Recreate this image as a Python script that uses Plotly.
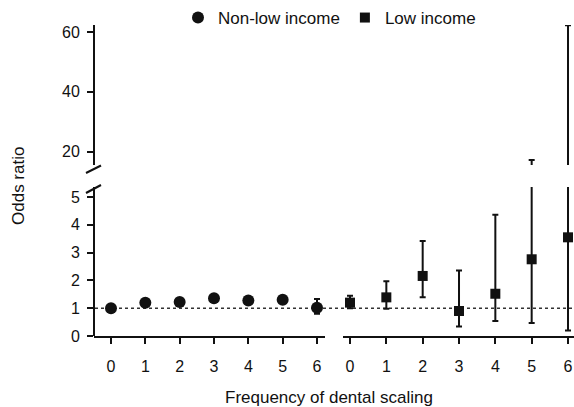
import plotly.graph_objects as go

W, H = 574, 407

freq = [0, 1, 2, 3, 4, 5, 6]
tick_labels = ["0", "1", "2", "3", "4", "5", "6"]

nonlow_or = [1.00, 1.20, 1.22, 1.36, 1.28, 1.30, 1.02]
nonlow_hi = [1.06, 1.27, 1.30, 1.44, 1.36, 1.38, 1.33]
nonlow_lo = [0.95, 1.13, 1.15, 1.28, 1.20, 1.22, 0.80]

low_or = [1.20, 1.39, 2.16, 0.90, 1.52, 2.76, 3.55]
low_hi = [1.45, 1.97, 3.42, 2.36, 4.36, 17.2, 62.3]
low_lo = [1.00, 0.98, 1.39, 0.34, 0.54, 0.47, 0.20]

def px_x(p):
    return p / W

def px_y(p):
    return (H - p) / H

font = "Liberation Sans, Arial, sans-serif"
ink = "#111111"

def err(center, hi, lo):
    return dict(type="data", symmetric=False,
                array=[h - c for h, c in zip(hi, center)],
                arrayminus=[c - l for c, l in zip(center, lo)],
                color=ink, thickness=2, width=3)

fig = go.Figure()

fig.add_trace(go.Scatter(
    x=freq, y=nonlow_or, mode="markers", name="Non-low income",
    marker=dict(symbol="circle", size=12, color=ink),
    error_y=err(nonlow_or, nonlow_hi, nonlow_lo),
    xaxis="x", yaxis="y"))

fig.add_trace(go.Scatter(
    x=freq, y=low_or, mode="markers", name="Low income",
    marker=dict(symbol="square", size=10, color=ink),
    error_y=err(low_or, low_hi, low_lo),
    xaxis="x2", yaxis="y"))

# upper (broken) panel: the same low-income intervals, seen above the break
fig.add_trace(go.Scatter(
    x=freq, y=low_or, mode="markers", name="Low income", showlegend=False,
    marker=dict(symbol="square", size=10, color=ink),
    error_y=err(low_or, low_hi, low_lo),
    xaxis="x2", yaxis="y3"))

axis_common = dict(showline=True, linecolor=ink, linewidth=2, ticks="outside",
                   tickcolor=ink, tickwidth=2, ticklen=6, showgrid=False,
                   zeroline=False, tickfont=dict(family=font, size=16, color=ink),
                   automargin=False)

fig.update_layout(
    width=W, height=H,
    margin=dict(l=0, r=0, t=0, b=0),
    paper_bgcolor="white", plot_bgcolor="white",
    font=dict(family=font, size=16, color=ink),
    xaxis=dict(domain=[px_x(94), px_x(325)], range=[-0.495, 6.233],
               tickvals=freq, ticktext=tick_labels, anchor="y",
               ticklabelstandoff=9, **axis_common),
    xaxis2=dict(domain=[px_x(343), 1.0], range=[-0.193, 6.165],
                tickvals=freq, ticktext=tick_labels, anchor="y",
                ticklabelstandoff=9, **axis_common),
    yaxis=dict(domain=[px_y(336), px_y(187)], range=[0, 5.36],
               tickvals=[0, 1, 2, 3, 4, 5], anchor="free", position=px_x(94),
               ticklabelstandoff=4, **axis_common),
    yaxis3=dict(domain=[px_y(165), px_y(25)], range=[15.5, 62.4],
                tickvals=[20, 40, 60], anchor="free", position=px_x(94),
                ticklabelstandoff=4, **axis_common),
    showlegend=True,
    legend=dict(orientation="h", x=px_x(178), y=1.0, xanchor="left", yanchor="top",
                font=dict(family=font, size=17, color=ink), itemwidth=30,
                bgcolor="rgba(0,0,0,0)"),
)

# reference line at OR = 1
fig.add_shape(type="line", xref="paper", yref="y", x0=px_x(95), x1=1.0, y0=1, y1=1,
              line=dict(color="#333333", width=1.5, dash="dot"), layer="below")

# axis-break marks
for (x0, y0, x1, y1) in [(86, 173, 101, 165.5), (86, 193, 101, 185)]:
    fig.add_shape(type="line", xref="paper", yref="paper",
                  x0=px_x(x0), y0=px_y(y0), x1=px_x(x1), y1=px_y(y1),
                  line=dict(color=ink, width=2))

fig.add_annotation(text="Odds ratio", xref="paper", yref="paper",
                   x=px_x(18), y=px_y(186), xanchor="center", yanchor="middle",
                   textangle=-90, showarrow=False,
                   font=dict(family=font, size=17, color=ink))
fig.add_annotation(text="Frequency of dental scaling", xref="paper", yref="paper",
                   x=px_x(329), y=px_y(397), xanchor="center", yanchor="middle",
                   showarrow=False,
                   font=dict(family=font, size=17, color=ink))

fig.write_html("out.html")
